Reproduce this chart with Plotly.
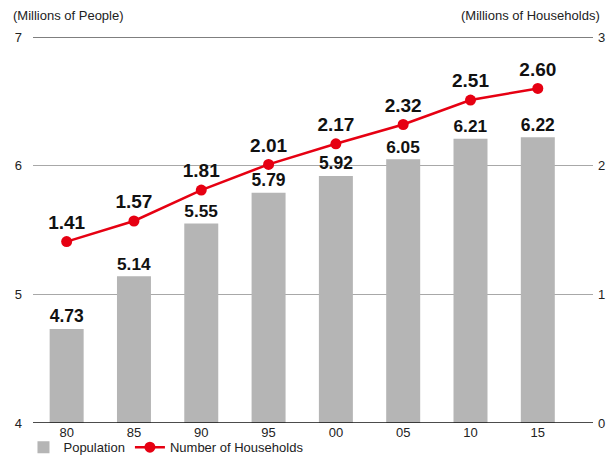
import plotly.graph_objects as go

years = ["80", "85", "90", "95", "00", "05", "10", "15"]
population = [4.73, 5.14, 5.55, 5.79, 5.92, 6.05, 6.21, 6.22]
households = [1.41, 1.57, 1.81, 2.01, 2.17, 2.32, 2.51, 2.60]

FONT = "Liberation Sans, Arial, Helvetica, sans-serif"
RED = "#e60012"
GRAY = "#b5b5b5"

fig = go.Figure()
fig.add_trace(go.Bar(
    x=years, y=population, name="Population",
    marker=dict(color=GRAY, line=dict(width=0)),
    text=[f"{v:.2f}" for v in population], textposition="outside",
    textfont=dict(family=FONT, size=19, color="#111", weight="bold"),
    cliponaxis=False, yaxis="y",
))
fig.add_trace(go.Scatter(
    x=years, y=households, name="Number of Households",
    mode="lines+markers+text",
    line=dict(color=RED, width=2.5),
    marker=dict(color=RED, size=11),
    text=[f"{v:.2f}" for v in households], textposition="top center",
    textfont=dict(family=FONT, size=19, color="#111", weight="bold"),
    cliponaxis=False, yaxis="y2",
))

fig.update_layout(
    width=610, height=457,
    margin=dict(l=33, r=17, t=37, b=34, autoexpand=False),
    paper_bgcolor="white", plot_bgcolor="white",
    font=dict(family=FONT, size=13, color="#222"),
    bargap=0.495,
    showlegend=True,
    legend=dict(orientation="h", x=-0.017, y=-0.024, xanchor="left", yanchor="top",
                font=dict(size=13, color="#222"), itemwidth=30, tracegroupgap=0,
                bgcolor="rgba(0,0,0,0)"),
    xaxis=dict(type="category", range=[-0.5, 7.82], showgrid=False, zeroline=False,
               showline=False, ticks="", automargin=False,
               tickfont=dict(size=13, color="#222")),
    yaxis=dict(range=[4, 7], tickvals=[4, 5, 6, 7], showgrid=True, automargin=False,
               gridcolor="#a8a8a8", gridwidth=1, zeroline=False, showline=False,
               ticks="", ticklabelstandoff=10, tickfont=dict(size=13, color="#222")),
    yaxis2=dict(range=[0, 3], tickvals=[0, 1, 2, 3], overlaying="y", side="right",
                showgrid=False, zeroline=False, showline=False, ticks="", automargin=False,
                ticklabelstandoff=4, tickfont=dict(size=13, color="#222")),
    annotations=[
        dict(text="(Millions of People)", xref="paper", yref="paper", x=-0.04, y=1.0,
             xanchor="left", yanchor="bottom", yshift=12, showarrow=False,
             font=dict(size=13, color="#222")),
        dict(text="(Millions of Households)", xref="paper", yref="paper", x=1.016, y=1.0,
             xanchor="right", yanchor="bottom", yshift=12, showarrow=False,
             font=dict(size=13, color="#222")),
    ],
    shapes=[
        dict(type="line", xref="paper", yref="y", x0=0, x1=1, y0=7, y1=7,
             line=dict(color="#555", width=1.3)),
        dict(type="line", xref="paper", yref="y", x0=0, x1=1, y0=4, y1=4,
             line=dict(color="#111", width=1.5)),
    ],
)

fig.write_html("out.html")
